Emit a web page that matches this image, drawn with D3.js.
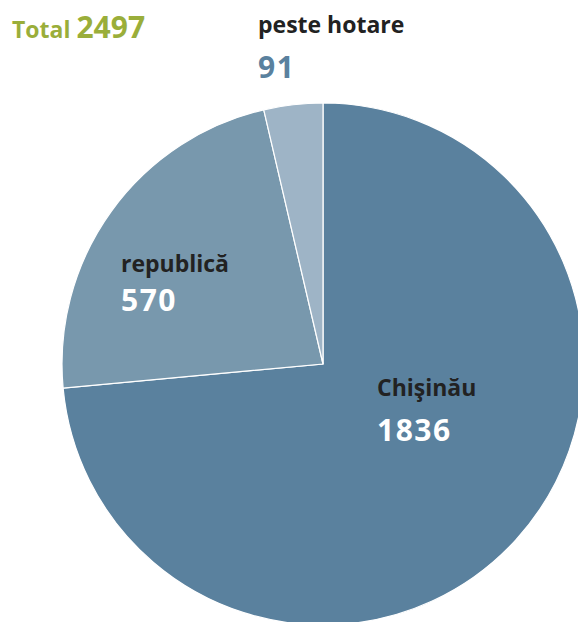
<!DOCTYPE html>
<html><head><meta charset="utf-8">
<script src="https://cdn.jsdelivr.net/npm/d3@7"></script>
<style>body{margin:0;background:#fff;}svg{display:block;}</style>
</head><body>
<svg id="c" width="578" height="622"></svg>
<script>
const categories = ["Chişinău", "republică", "peste hotare"];
const values = [1836, 570, 91];
const colors = ["#5a819e", "#7898ad", "#9eb4c6"];
const totalLabel = "Total";
const total = 2497;

const svg = d3.select("#c");
const font = "'Open Sans', 'Noto Sans', sans-serif";
const cx = 323, cy = 364, r = 261;

const pie = d3.pie().sort(null).value(d => d)(values);
const arc = d3.arc().innerRadius(0).outerRadius(r);
const g = svg.append("g").attr("transform", `translate(${cx},${cy})`);
g.selectAll("path").data(pie).join("path")
  .attr("d", arc).attr("fill", (d,i) => colors[i])
  .attr("stroke", "#fff").attr("stroke-width", 1.2);

const labels = [
  {x: 377, y1: 396, y2: 441, nameFill: "#222", valFill: "#fff"},
  {x: 121, y1: 272, y2: 311, nameFill: "#222", valFill: "#fff"},
  {x: 258, y1: 33, y2: 78, nameFill: "#222", valFill: "#5a819e"}
];
labels.forEach((l, i) => {
  svg.append("text").attr("x", l.x).attr("y", l.y1)
    .attr("font-family", font).attr("font-weight", 700).attr("font-size", 23)
    .attr("fill", l.nameFill).text(categories[i]);
  svg.append("text").attr("x", l.x).attr("y", l.y2)
    .attr("font-family", font).attr("font-weight", 700).attr("font-size", 30)
    .attr("fill", l.valFill).attr("letter-spacing", 1.5).text(values[i]);
});

const t = svg.append("text").attr("x", 12).attr("y", 38)
  .attr("font-family", font).attr("font-weight", 700).attr("fill", "#9aae3a");
t.append("tspan").attr("font-size", 23).text(totalLabel + " ");
t.append("tspan").attr("font-size", 30).text(total);
</script>
</body></html>
